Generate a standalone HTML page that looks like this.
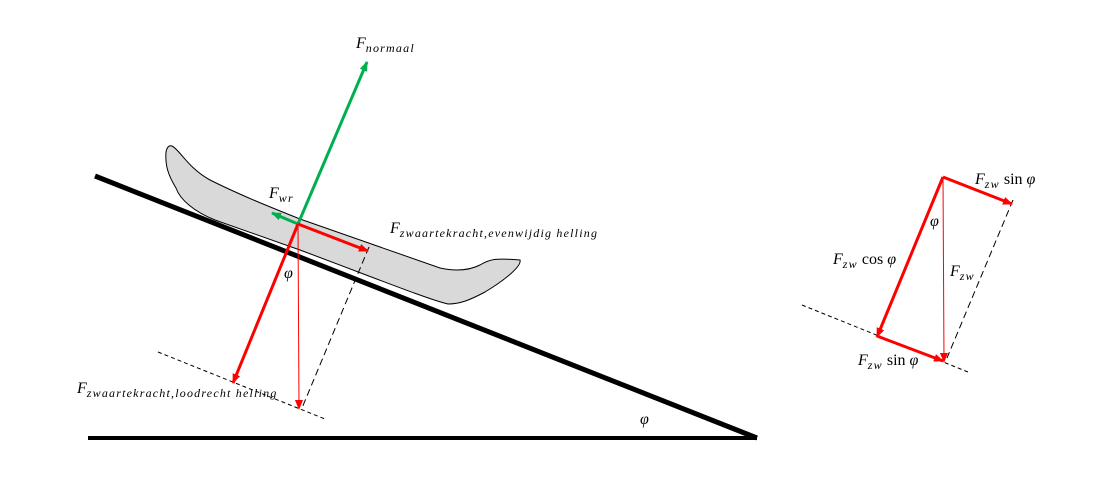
<!DOCTYPE html>
<html><head><meta charset="utf-8"><style>
html,body{margin:0;padding:0;background:#fff;}
svg{display:block;}
text{font-family:"Liberation Serif",serif;font-style:italic;fill:#000;}
.s{font-size:12px;letter-spacing:1.2px;}
</style></head><body>
<svg width="1120" height="482" viewBox="0 0 1120 482" xmlns="http://www.w3.org/2000/svg">
<defs>
<marker id="r" markerWidth="10" markerHeight="8" refX="9" refY="4" orient="auto" markerUnits="userSpaceOnUse"><path d="M0,0 L10,4 L0,8 Z" fill="#f00"/></marker>
<marker id="g" markerWidth="10" markerHeight="8" refX="9" refY="4" orient="auto" markerUnits="userSpaceOnUse"><path d="M0,0 L10,4 L0,8 Z" fill="#00b050"/></marker>
</defs>
<path d="M172,146 C180,150 188,168 210,180 C240,195 270,207 300,219 L440,268 C458,272 470,270 480,265 C490,259 495,258 520,260 C522,266 505,280 485,292 C470,300 460,304 448,304 C430,300 380,280 300,250 L215,220 C195,212 180,200 176,188 C168,175 165,165 166,152 C167,147 169,145 172,146 Z" fill="#d9d9d9" stroke="#000" stroke-width="1"/>
<line x1="95" y1="176" x2="757" y2="438" stroke="#000" stroke-width="5"/>
<line x1="88" y1="438" x2="757" y2="438" stroke="#000" stroke-width="4"/>
<line x1="158" y1="352" x2="325" y2="419" stroke="#000" stroke-width="1" stroke-dasharray="4,3"/>
<line x1="369" y1="247" x2="302" y2="408" stroke="#000" stroke-width="1" stroke-dasharray="7,4"/>
<line x1="298" y1="224" x2="367" y2="62" stroke="#00b050" stroke-width="3" marker-end="url(#g)"/>
<line x1="298" y1="224" x2="272" y2="213" stroke="#00b050" stroke-width="3" marker-end="url(#g)"/>
<line x1="298" y1="224" x2="368" y2="251" stroke="#f00" stroke-width="3" marker-end="url(#r)"/>
<line x1="298" y1="224" x2="233" y2="383" stroke="#f00" stroke-width="3" marker-end="url(#r)"/>
<line x1="298" y1="224" x2="299" y2="409" stroke="#f00" stroke-width="1" marker-end="url(#r)"/>
<text x="356" y="48" font-size="16">F<tspan class="s" dy="4">normaal</tspan></text>
<text x="269" y="198" font-size="16">F<tspan class="s" dy="4">wr</tspan></text>
<text x="390" y="233" font-size="16">F<tspan class="s" dy="4">zwaartekracht,evenwijdig helling</tspan></text>
<text x="284" y="278" font-size="16">φ</text>
<text x="77" y="393" font-size="16">F<tspan class="s" dy="4">zwaartekracht,loodrecht helling</tspan></text>
<text x="640" y="424" font-size="16">φ</text>
<line x1="802" y1="305" x2="968" y2="372" stroke="#000" stroke-width="1" stroke-dasharray="4,3"/>
<line x1="1013" y1="200" x2="947" y2="358" stroke="#000" stroke-width="1" stroke-dasharray="7,4"/>
<line x1="943" y1="177" x2="1012" y2="204" stroke="#f00" stroke-width="3" marker-end="url(#r)"/>
<line x1="943" y1="177" x2="877" y2="337" stroke="#f00" stroke-width="3" marker-end="url(#r)"/>
<line x1="877" y1="336" x2="943" y2="361" stroke="#f00" stroke-width="3" marker-end="url(#r)"/>
<line x1="943" y1="177" x2="944" y2="362" stroke="#f00" stroke-width="1" marker-end="url(#r)"/>
<text x="975" y="184" font-size="16">F<tspan class="s" dy="4">zw</tspan><tspan dy="-4" font-style="normal"> sin </tspan>φ</text>
<text x="930" y="226" font-size="16">φ</text>
<text x="833" y="264" font-size="16">F<tspan class="s" dy="4">zw</tspan><tspan dy="-4" font-style="normal"> cos </tspan>φ</text>
<text x="950" y="276" font-size="16">F<tspan class="s" dy="4">zw</tspan></text>
<text x="858" y="365" font-size="16">F<tspan class="s" dy="4">zw</tspan><tspan dy="-4" font-style="normal"> sin </tspan>φ</text>
</svg>
</body></html>
